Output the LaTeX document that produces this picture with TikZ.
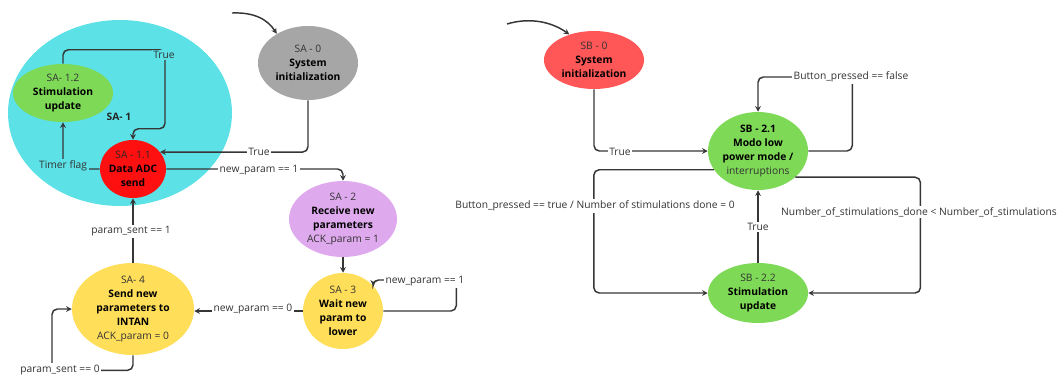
\documentclass[tikz,border=0pt]{standalone}
\usepackage{fontspec}
\setmainfont{Open Sans}
\usetikzlibrary{shapes.geometric,arrows.meta}
\definecolor{cyanbg}{HTML}{5CE1E6}
\definecolor{grayst}{HTML}{A6A6A6}
\definecolor{redst}{HTML}{FF1010}
\definecolor{coral}{HTML}{FF5757}
\definecolor{greenst}{HTML}{7ED957}
\definecolor{purplest}{HTML}{DFA9EE}
\definecolor{yellowst}{HTML}{FFDE59}
\definecolor{ink}{HTML}{363636}
\definecolor{txt}{HTML}{333333}
\begin{document}
\begin{tikzpicture}[x=0.75pt,y=-0.75pt,
  font=\fontsize{7.7}{10.5}\selectfont,
  ell/.style args={#1/#2}{ellipse, draw=none, inner sep=0pt,
    minimum width=#1*1.5pt, minimum height=#2*1.5pt},
  stxt/.style={align=center, text=txt, inner sep=0pt},
  lbl/.style={fill=white, text=txt, inner sep=1.2pt},
  arr/.style={draw=ink, line width=1.1pt, rounded corners=4pt,
    -{Stealth[length=4.2pt,width=4.2pt]}}]
\useasboundingbox (0,0) rectangle (1059,376);

% ---------- Machine A ----------
\node[ell=112/93, fill=cyanbg] (sa1) at (120,113) {};
\node[font=\fontsize{7.7}{10.5}\selectfont\bfseries, text=black!85] (sa1t) at (119,117) {SA- 1};

\node[ell=50/29, fill=greenst, label={[stxt]center:SA- 1.2\\\textbf{\color{black}Stimulation}\\\textbf{\color{black}update}}] (sa12) at (63,93) {};
\node[ell=33/29, fill=redst, label={[stxt,text=black!85]center:SA - 1.1\\\textbf{\color{black}Data ADC}\\\textbf{\color{black}send}}] (sa11) at (133,169) {};
\node[ell=50/37, fill=grayst, label={[stxt]center:SA - 0\\\textbf{\color{black}System}\\\textbf{\color{black}initialization}}] (sa0) at (308,63) {};
\node[ell=54/38, fill=purplest, label={[stxt]center:SA - 2\\\textbf{\color{black}Receive new}\\\textbf{\color{black}parameters}\\ACK\_param = 1}] (sa2) at (343,219) {};
\node[ell=40/38, fill=yellowst, label={[stxt]center:SA - 3\\\textbf{\color{black}Wait new}\\\textbf{\color{black}param to}\\\textbf{\color{black}lower}}] (sa3) at (343,311) {};
\node[ell=61/46, fill=yellowst, label={[stxt]center:SA- 4\\\textbf{\color{black}Send new}\\\textbf{\color{black}parameters to}\\\textbf{\color{black}INTAN}\\ACK\_param = 0}] (sa4) at (133,309) {};

\coordinate (sainit) at (232,13);
\draw[arr] (sainit) .. controls (255,12) and (268,20) .. (sa0.137);
\draw[arr] (sa0.south) |- (sa11.32);
\draw[arr] (sa11.east) -| (sa2.north);
\draw[arr] (sa2.south) -- (sa3.north);
\draw[arr] (sa3.east) -| ++(73,-31) -| (sa3.40);
\draw[arr] (sa3.west) -- (sa3.west -| sa4.east);
\draw[arr] (sa4.north) -- (sa11.south);
\draw[arr] (sa4.south) |- ++(-81,15) |- (sa4.west);
\draw[arr] (sa11.west) -| (sa12.south);
\draw[arr] (sa12.north) |- ++(102,-14) -- ++(0,79) -| (sa11.north);

\node[lbl] (l1) at (259,152) {True};
\node[lbl] (l2) at (259,170) {new\_param == 1};
\node[lbl] (l3) at (425,281) {new\_param == 1};
\node[lbl] (l4) at (253,309) {new\_param == 0};
\node[lbl] (l5) at (131,231) {param\_sent == 1};
\node[lbl] (l6) at (60,370) {param\_sent == 0};
\node[lbl, fill=cyanbg] (l7) at (63,166) {Timer flag};
\node[lbl, fill=cyanbg] (l8) at (164,55) {True};

% ---------- Machine B ----------
\node[ell=50/29, fill=coral, label={[stxt]center:SB - 0\\\textbf{\color{black}System}\\\textbf{\color{black}initialization}}] (sb0) at (594,60) {};
\node[ell=50/39, fill=greenst, label={[stxt]center:\textbf{\color{black}SB - 2.1}\\\textbf{\color{black}Modo low}\\\textbf{\color{black}power mode /}\\interruptions}] (sb21) at (758,151) {};
\node[ell=50/30, fill=greenst, label={[stxt]center:SB - 2.2\\\textbf{\color{black}Stimulation}\\\textbf{\color{black}update}}] (sb22) at (758,293) {};

\coordinate (sbinit) at (507,24);
\draw[arr] (sbinit) .. controls (530,17) and (552,22) .. (sb0.134);
\draw[arr] (sb0.south) |- (sb21.west);
\draw[arr] (sb21.east) -| ++(44,-74) -| (sb21.north);
\draw[arr] (sb21.-35) -- ++(125,0) |- (sb22.east);
\draw[arr] (sb21.203) -- ++(-120,0) |- (sb22.west);
\draw[arr] (sb22.north) -- (sb21.south);

\node[lbl] (m1) at (620,152) {True};
\node[lbl] (m2) at (851,77) {Button\_pressed == false};
\node[lbl] (m3) at (919,212) {Number\_of\_stimulations\_done < Number\_of\_stimulations};
\node[lbl] (m4) at (595,206) {Button\_pressed == true / Number of stimulations done = 0};
\node[lbl] (m5) at (758,227) {True};
\end{tikzpicture}
\end{document}
